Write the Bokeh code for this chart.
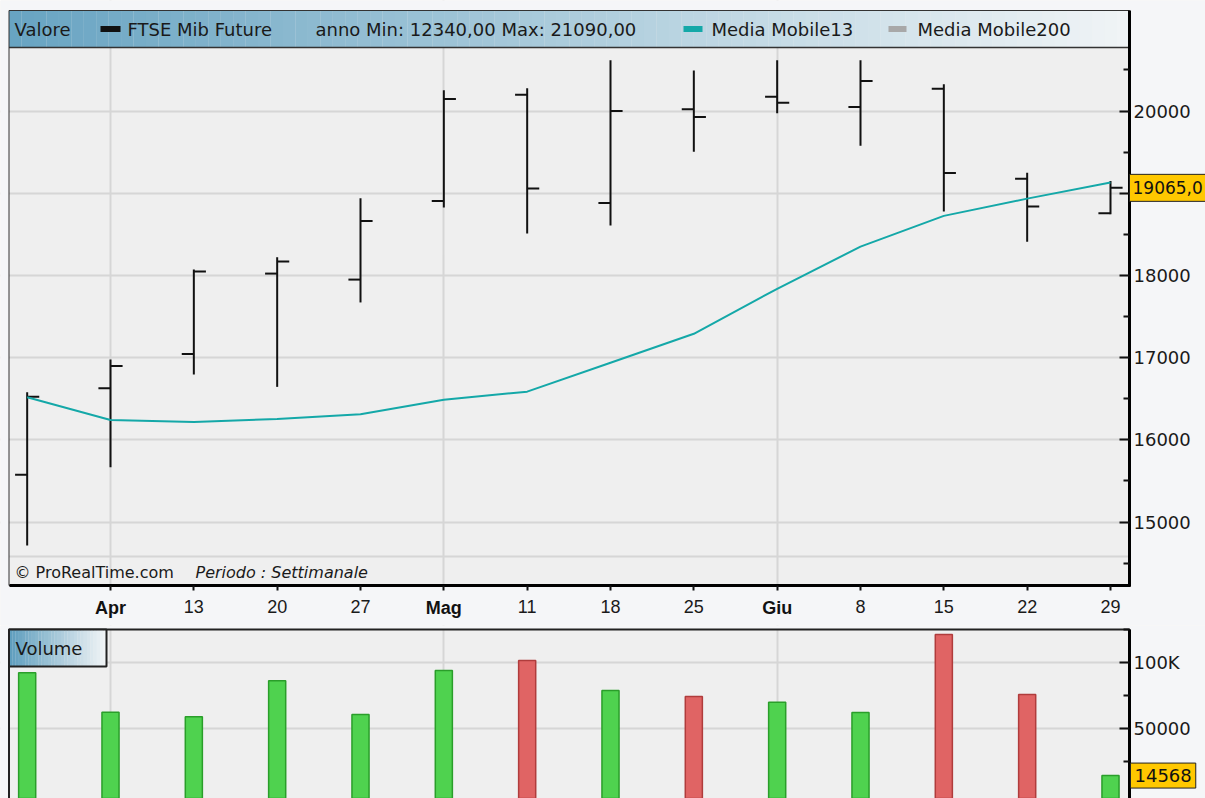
import numpy as np
from bokeh.plotting import figure
from bokeh.models import FixedTicker, Label, Range1d, LinearAxis, Grid
from bokeh.layouts import column
from bokeh.embed import file_html
from bokeh.resources import INLINE

# ---------------- data (weekly FTSE Mib Future, 30 Mar - 29 Jun) ----------------
weeks = list(range(14))
tick_weeks = list(range(1, 14))
tick_labels = ["Apr", "13", "20", "27", "Mag", "11", "18", "25", "Giu", "8", "15", "22", "29"]
tick_is_month = [True, False, False, False, True, False, False, False, True, False, False, False, False]

opens  = [15574, 16628, 17044, 18022, 17949, 18906, 20198, 18882, 20020, 20174, 20049, 20271, 19177, 18757]
highs  = [16577, 16978, 18071, 18221, 18939, 20251, 20276, 20616, 20494, 20616, 20616, 20324, 19250, 19149]
lows   = [14714, 15666, 16795, 16644, 17671, 18825, 18509, 18606, 19505, 19972, 19578, 18776, 18408, 18745]
closes = [16525, 16897, 18046, 18169, 18661, 20146, 19056, 20000, 19927, 20101, 20365, 19247, 18837, 19065]
ma13   = [16517, 16241, 16217, 16253, 16310, 16488, 16586, 16938, 17290, 17837, 18350, 18724, 18934, 19129]
volume = [92420, 62580, 59090, 86360, 60900, 94160, 101740, 79020, 74470, 70150, 62350, 121440, 75980, 14568]

price_ticks = [15000, 16000, 17000, 18000, 19000, 20000]
price_minor = [14500, 15500, 16500, 17500, 18500, 19500, 20500]
vol_ticks = [50000, 100000]
vol_minor = [25000, 75000, 125000]

last_close_label = "19065,0"
last_volume_label = "14568"

# ---------------- layout constants (pixel geometry) ----------------
FONT = "DejaVu Sans"
AXFONT = "Liberation Sans"
BG_OUT = "#f5f6f8"
BG_IN = "#efefef"
GRID = "#d6d6d6"
GOLD = "#ffc800"
TEAL = "#14a8a8"
INK = "#1a1a1a"

W = 1205
H1, H2 = 625, 173
PX0, PXW = 26.67, 83.333          # px of week 0, px per week
PL, PR = 8.5, 1129                # plot area left/right px


def fx(px):
    return (px - PX0) / PXW


def fy1(py):                      # price panel: 20000 at py 110.5, 82.2 px / 1000
    return 20000 + (110.5 - py) / 0.0822


def fy2(py):                      # volume panel (canvas starts at py 625)
    return (794.3 - py) * 757.58


def lerp_colors(c0, c1, n):
    out = []
    for t in np.linspace(0, 1, n):
        r, g, b = [int(round(a + (bb - a) * t)) for a, bb in zip(c0, c1)]
        out.append("#%02x%02x%02x" % (r, g, b))
    return out


def style_axis(ax, tin, tout, size="18px", font=FONT):
    ax.axis_line_width = 3
    ax.axis_line_color = "#000000"
    ax.major_tick_in = tin
    ax.major_tick_out = tout
    ax.minor_tick_in = 6 if tin else 0
    ax.minor_tick_out = 0
    ax.major_tick_line_width = 2
    ax.minor_tick_line_width = 2
    ax.major_tick_line_color = "#111111"
    ax.minor_tick_line_color = "#111111"
    ax.major_label_text_font = font
    ax.major_label_text_font_size = size
    ax.major_label_text_color = INK


XL, XR = fx(0), fx(W)

# ================= price panel =================
T1, B1, HB = 10, 585, 47          # plot top, bottom, header bottom (px)
p = figure(width=W, height=H1, x_range=Range1d(XL, XR), y_range=Range1d(fy1(H1), fy1(0)),
           output_backend="svg", toolbar_location=None,
           x_axis_location=None, y_axis_location=None,
           min_border_left=0, min_border_right=0, min_border_top=0, min_border_bottom=0,
           background_fill_color=BG_IN, border_fill_color=BG_OUT, outline_line_color=None)
for g in p.grid:
    g.visible = False

month_x = [w for w, m in zip(tick_weeks, tick_is_month) if m]
p.add_layout(Grid(dimension=0, ticker=FixedTicker(ticks=month_x), bounds=(fy1(B1), fy1(HB)),
                  grid_line_color=GRID, grid_line_width=2))
p.add_layout(Grid(dimension=1, ticker=FixedTicker(ticks=price_ticks), bounds=(fx(PL), fx(PR)),
                  grid_line_color=GRID, grid_line_width=2))

# outside area (left, right, bottom, top bands)
p.quad(left=[XL, fx(PR), XL, XL], right=[fx(PL), XR, XR, XR],
       bottom=[fy1(H1), fy1(H1), fy1(H1), fy1(T1)], top=[fy1(0), fy1(0), fy1(B1), fy1(0)],
       fill_color=BG_OUT, line_color=None)

# header gradient
n = 90
edges = np.linspace(fx(PL), fx(PR), n + 1)
p.quad(left=edges[:-1], right=edges[1:] + 0.002, bottom=fy1(HB), top=fy1(T1),
       fill_color=lerp_colors((104, 164, 194), (240, 244, 246), n), line_color=None)
p.segment(x0=[fx(PL)], y0=[fy1(HB)], x1=[fx(PR)], y1=[fy1(HB)], line_color="#333333", line_width=1.5)

# strip separator
p.segment(x0=[fx(PL)], y0=[fy1(556)], x1=[fx(PR)], y1=[fy1(556)], line_color=GRID, line_width=2)

# plot border
p.quad(left=[fx(PL)], right=[fx(PR)], bottom=[fy1(B1)], top=[fy1(T1)], fill_color=None,
       line_color="#333333", line_width=1)

# OHLC bars
tick_w = 0.145
xs = np.array(weeks, dtype=float)
p.segment(x0=xs, y0=lows, x1=xs, y1=highs, line_color="#111111", line_width=2)
p.segment(x0=xs - tick_w, y0=opens, x1=xs, y1=opens, line_color="#111111", line_width=2)
p.segment(x0=xs, y0=closes, x1=xs + tick_w, y1=closes, line_color="#111111", line_width=2)

# moving average
p.line(weeks, ma13, line_color=TEAL, line_width=2)

# header texts and swatches
hy = fy1((T1 + HB) / 2)
for x0px, x1px, col in [(100, 120, "#111111"), (683, 702, TEAL), (888, 906, "#a8a8a8")]:
    p.quad(left=[fx(x0px)], right=[fx(x1px)], bottom=[fy1(31.5)], top=[fy1(25.5)],
           fill_color=col, line_color=None)
for xpx, txt in [(14, "Valore"), (127, "FTSE Mib Future"),
                 (315, "anno Min: 12340,00 Max: 21090,00"),
                 (711, "Media Mobile13"), (917, "Media Mobile200")]:
    p.add_layout(Label(x=fx(xpx), y=hy, text=txt, text_font=FONT, text_font_size="18px",
                       text_baseline="middle", text_align="left", text_color=INK))

# copyright strip
p.add_layout(Label(x=fx(14), y=fy1(572), text="© ProRealTime.com", text_font=FONT,
                   text_font_size="16px", text_baseline="middle", text_color=INK))
p.add_layout(Label(x=fx(195), y=fy1(572), text="Periodo : Settimanale", text_font=FONT,
                   text_font_size="16px", text_font_style="italic", text_baseline="middle",
                   text_color=INK))

# right axis (fixed at plot edge)
ya = LinearAxis(fixed_location=fx(PR), bounds=(fy1(B1 + 1), fy1(T1)),
                ticker=FixedTicker(ticks=price_ticks, minor_ticks=price_minor))
ya.major_label_overrides = {t: ("" if t == 19000 else str(t)) for t in price_ticks}
style_axis(ya, 10, 0)
ya.major_label_standoff = 4
p.add_layout(ya, "right")

# bottom axis (fixed at plot edge)
xa = LinearAxis(fixed_location=fy1(B1), bounds=(fx(PL), fx(PR + 1)),
                ticker=FixedTicker(ticks=tick_weeks, minor_ticks=[]))
xa.major_label_overrides = {w: ("" if m else lab) for w, lab, m in zip(tick_weeks, tick_labels, tick_is_month)}
style_axis(xa, 0, 5, size="18px", font=AXFONT)
xa.major_label_standoff = 9
p.add_layout(xa, "below")
for w, lab, m in zip(tick_weeks, tick_labels, tick_is_month):
    if m:
        p.add_layout(Label(x=w, y=fy1(B1), y_offset=-22, text=lab, text_font=AXFONT,
                           text_font_size="18px", text_font_style="bold", text_align="center",
                           text_baseline="middle", text_color="#111111"))

# last value box
p.add_layout(Label(x=fx(PR), y=closes[-1], x_offset=0, text=last_close_label, text_font=FONT,
                   text_font_size="17px", text_baseline="middle", text_align="left",
                   background_fill_color=GOLD, border_line_color="#222222",
                   padding=dict(left=3, right=3, top=7, bottom=7),
                   text_color="#111111"))

# ================= volume panel =================
T2 = 629
v = figure(width=W, height=H2, x_range=p.x_range, y_range=Range1d(fy2(798), fy2(625)),
           output_backend="svg", toolbar_location=None,
           x_axis_location=None, y_axis_location=None,
           min_border_left=0, min_border_right=0, min_border_top=0, min_border_bottom=0,
           background_fill_color=BG_IN, border_fill_color=BG_OUT, outline_line_color=None)
for g in v.grid:
    g.visible = False
v.add_layout(Grid(dimension=0, ticker=FixedTicker(ticks=month_x), bounds=(fy2(800), fy2(T2)),
                  grid_line_color=GRID, grid_line_width=2))
v.add_layout(Grid(dimension=1, ticker=FixedTicker(ticks=vol_ticks), bounds=(fx(PL), fx(PR)),
                  grid_line_color=GRID, grid_line_width=2))

v.quad(left=[XL, fx(PR), XL], right=[fx(PL), XR, XR],
       bottom=[fy2(800), fy2(800), fy2(T2)], top=[fy2(625), fy2(625), fy2(625)],
       fill_color=BG_OUT, line_color=None)

up = [True] + [closes[i] >= closes[i - 1] for i in range(1, len(closes))]
fills = ["#4fd24f" if u else "#e06464" for u in up]
lines = ["#2a9e2a" if u else "#b03c3c" for u in up]
v.vbar(x=weeks, top=volume, bottom=fy2(800), width=0.205, fill_color=fills, line_color=lines,
       line_width=1.5)

v.quad(left=[fx(PL)], right=[fx(PR)], bottom=[fy2(800)], top=[fy2(T2)], fill_color=None,
       line_color="#222222", line_width=2)

# "Volume" box
m = 30
e2 = np.linspace(fx(PL), fx(106), m + 1)
v.quad(left=e2[:-1], right=e2[1:] + 0.002, bottom=fy2(666), top=fy2(T2),
       fill_color=lerp_colors((95, 158, 190), (240, 244, 246), m), line_color=None)
v.quad(left=[fx(PL)], right=[fx(106)], bottom=[fy2(666)], top=[fy2(T2)], fill_color=None,
       line_color="#222222", line_width=2)
v.add_layout(Label(x=fx(15), y=fy2(648), text="Volume", text_font=FONT,
                   text_font_size="18px", text_baseline="middle", text_color=INK))

va = LinearAxis(fixed_location=fx(PR), bounds=(fy2(800), fy2(T2)),
                ticker=FixedTicker(ticks=vol_ticks, minor_ticks=vol_minor))
va.major_label_overrides = {50000: "50000", 100000: "100K"}
style_axis(va, 10, 0)
va.major_label_standoff = 4
v.add_layout(va, "right")

v.add_layout(Label(x=fx(PR), y=volume[-1], x_offset=1, text=last_volume_label, text_font=FONT,
                   text_font_size="18px", text_baseline="middle", text_align="left",
                   background_fill_color=GOLD, border_line_color="#222222",
                   padding=dict(left=4, right=4, top=6, bottom=6),
                   text_color="#111111"))

layout = column(p, v, spacing=0)
open("out.html", "w").write(file_html(layout, INLINE))
